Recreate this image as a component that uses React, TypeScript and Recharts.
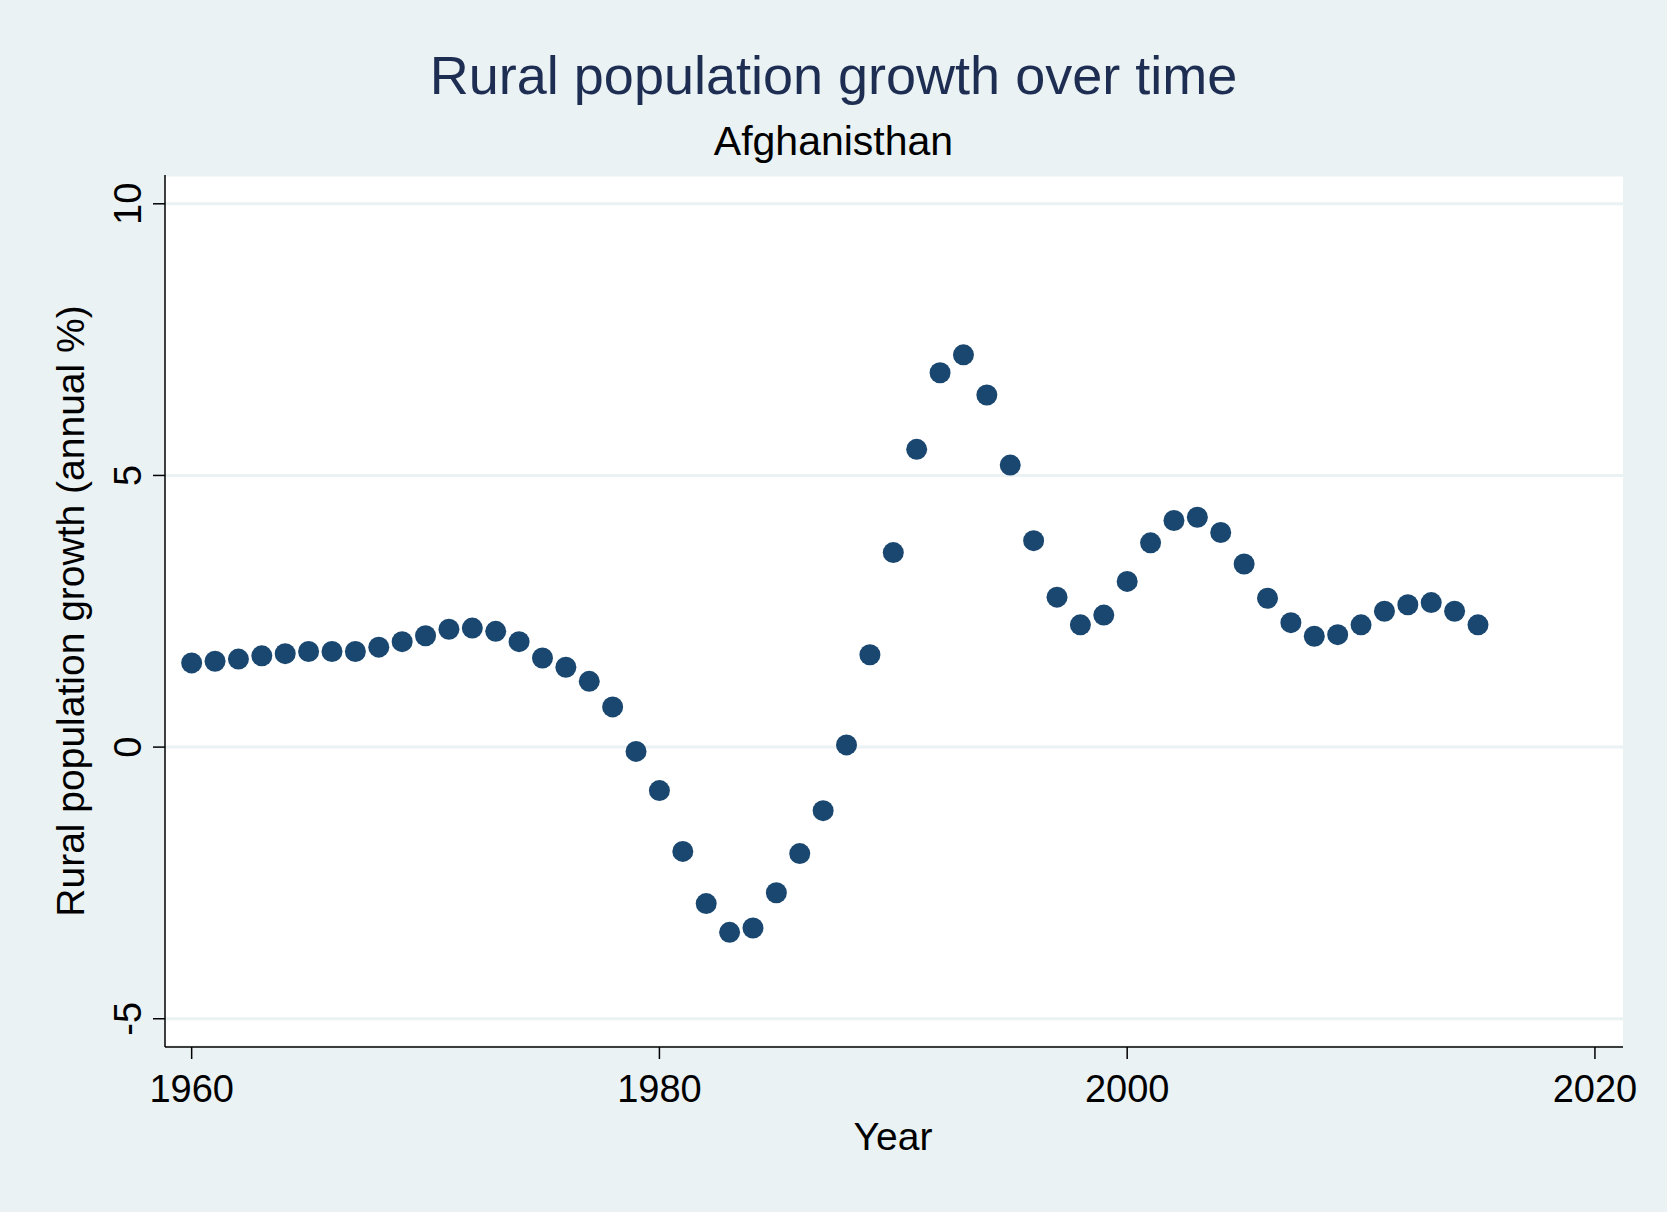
import { CartesianGrid, Scatter, ScatterChart, XAxis, YAxis } from 'recharts'

const years = [
    1960, 1961, 1962, 1963, 1964, 1965, 1966, 1967, 1968, 1969, 1970, 1971, 1972, 1973, 1974, 1975, 1976, 1977, 1978, 1979,
    1980, 1981, 1982, 1983, 1984, 1985, 1986, 1987, 1988, 1989, 1990, 1991, 1992, 1993, 1994, 1995, 1996, 1997, 1998, 1999,
    2000, 2001, 2002, 2003, 2004, 2005, 2006, 2007, 2008, 2009, 2010, 2011, 2012, 2013, 2014, 2015,
]
const growth = [
    1.55, 1.58, 1.62, 1.68, 1.72, 1.76, 1.76, 1.76, 1.84, 1.94, 2.05, 2.17, 2.19, 2.13, 1.94, 1.64, 1.47, 1.21, 0.74, -0.08,
    -0.8, -1.92, -2.88, -3.41, -3.33, -2.68, -1.96, -1.17, 0.04, 1.7, 3.58, 5.48, 6.89, 7.22, 6.48, 5.19, 3.8, 2.76, 2.25, 2.43,
    3.05, 3.76, 4.17, 4.23, 3.95, 3.37, 2.74, 2.29, 2.04, 2.07, 2.25, 2.5, 2.62, 2.66, 2.5, 2.25,
]
const xTicks = [1960, 1980, 2000, 2020]
const yTicks = [-5, 0, 5, 10]

const data = years.map((year, i) => ({ year, value: growth[i] }))

const font = '"Liberation Sans", Arial, sans-serif'

const YTick = (props: any) => {
    const { x, y, payload } = props
    return (
        <text x={x - 10} y={y} transform={`rotate(-90 ${x - 10} ${y})`} textAnchor='middle'
            fontSize={38} fontFamily={font} fill='#000'>
            {payload.value}
        </text>
    )
}

export default function App() {
    return (
        <div style={{ position: 'absolute', left: 0, top: 0, width: 1667, height: 1212, background: '#eaf2f3', fontFamily: font }}>
            <div style={{ position: 'absolute', top: 44, width: '100%', textAlign: 'center', fontSize: 54, color: '#1e2d52' }}>
                Rural population growth over time
            </div>
            <div style={{ position: 'absolute', top: 118, width: '100%', textAlign: 'center', fontSize: 41, color: '#000' }}>
                Afghanisthan
            </div>
            <div style={{
                position: 'absolute', left: 71, top: 611, transform: 'translate(-50%, -50%) rotate(-90deg)',
                whiteSpace: 'nowrap', fontSize: 39, color: '#000',
            }}>
                Rural population growth (annual %)
            </div>
            <div style={{ position: 'absolute', left: 893, top: 1137, transform: 'translate(-50%, -50%)', fontSize: 39, color: '#000' }}>
                Year
            </div>
            <ScatterChart width={1667} height={1212} margin={{ top: 175, right: 44, bottom: 0, left: 0 }}
                style={{ position: 'absolute', left: 0, top: 0 }}>
                <CartesianGrid vertical={false} fill='#ffffff' stroke='#eaf2f3' strokeWidth={3} />
                <XAxis type='number' dataKey='year' domain={[1958.86, 2021.2]} ticks={xTicks} allowDataOverflow
                    height={165} stroke='#000' strokeWidth={1.5} tickSize={12}
                    tick={{ fontSize: 38, fontFamily: font, fill: '#000', dy: 14 }} />
                <YAxis type='number' dataKey='value' domain={[-5.52, 10.53]} ticks={yTicks} allowDataOverflow
                    width={165} stroke='#000' strokeWidth={1.5} tickSize={12} tick={<YTick />} />
                <Scatter data={data} fill='#1a476f' isAnimationActive={false}
                    shape={(p: any) => <circle cx={p.cx} cy={p.cy} r={10.5} fill='#1a476f' />} />
            </ScatterChart>
        </div>
    )
}
